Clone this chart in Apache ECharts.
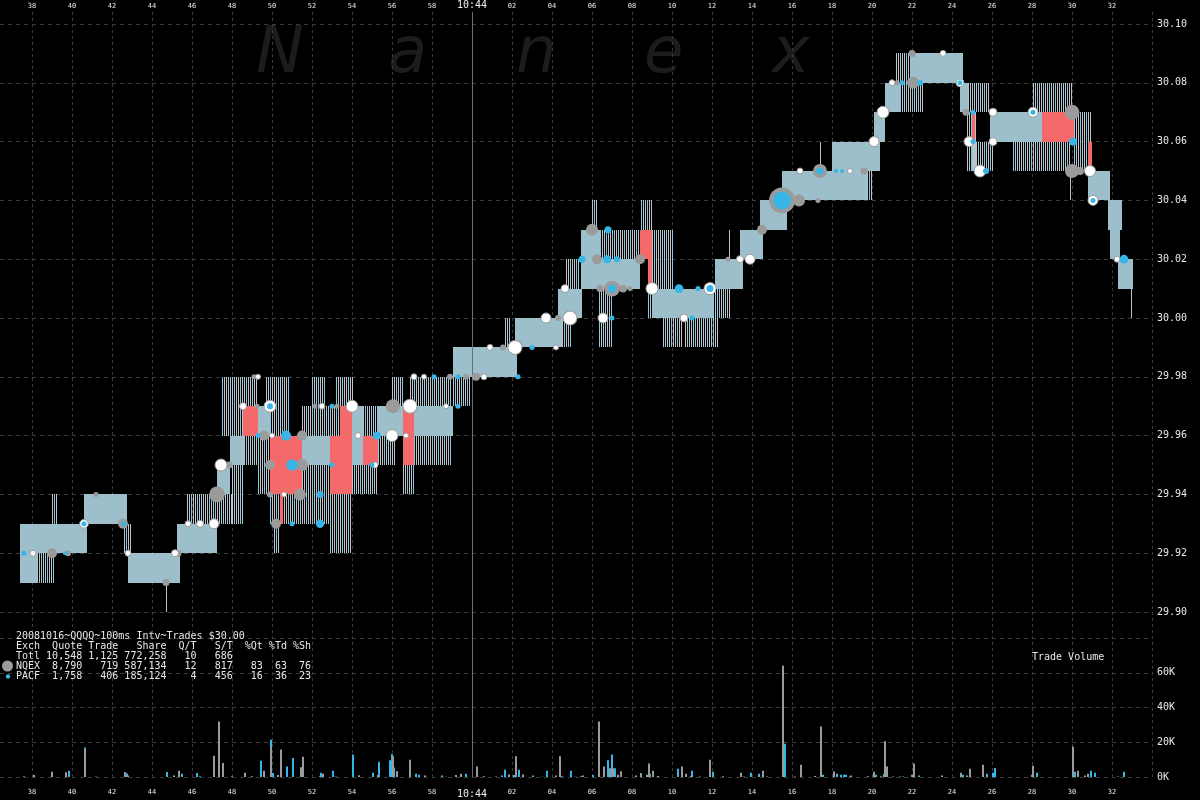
<!DOCTYPE html>
<html><head><meta charset="utf-8">
<script src="https://cdn.jsdelivr.net/npm/echarts@6/dist/echarts.min.js"></script>
<style>html,body{margin:0;padding:0;background:#000}#c{width:1200px;height:800px}</style>
</head><body><div id="c"></div>
<script>
// time = seconds after 10:43:00 ; prices in dollars
const bandSegs = [
 [37.4,38.25,29.91,29.93],[38.25,40.75,29.92,29.93],[40.6,42.75,29.93,29.94],[42.8,45.4,29.91,29.92],
 [45.25,47.25,29.92,29.93],[47.25,47.9,29.94,29.95],[47.9,48.6,29.95,29.96],[49.3,49.9,29.96,29.97],
 [51.5,52.9,29.95,29.96],[54.0,54.55,29.95,29.97],[55.3,56.55,29.96,29.97],[57.1,59.05,29.96,29.97],
 [59.05,62.25,29.98,29.99],[62.15,64.5,29.99,30.00],[64.3,65.5,30.00,30.01],[65.45,66.4,30.01,30.03],
 [66.4,68.4,30.01,30.02],[69.0,72.05,30.00,30.01],[72.15,73.55,30.01,30.02],[73.4,74.55,30.02,30.03],
 [74.4,75.75,30.03,30.04],[75.5,79.75,30.04,30.05],[78.0,80.4,30.05,30.06],[80.1,80.65,30.06,30.07],
 [80.65,81.4,30.07,30.08],[81.9,84.55,30.08,30.09],[84.4,84.8,30.07,30.08],[85.9,88.5,30.06,30.07],
 [90.8,91.9,30.04,30.05],[91.8,92.5,30.03,30.04],[91.9,92.4,30.02,30.03],[92.3,93.05,30.01,30.02]
];
const crossedSegs = [
 [48.55,49.3,29.96,29.97],[49.9,51.5,29.94,29.96],[50.4,50.55,29.93,29.94],[52.9,54.0,29.94,29.96],
 [53.4,54.0,29.96,29.97],[54.55,55.3,29.95,29.96],[56.55,57.1,29.95,29.97],[68.4,69.0,30.02,30.03],
 [68.8,69.0,30.01,30.02],[85.0,85.15,30.06,30.07],[88.5,90.1,30.06,30.07],[90.8,91.0,30.05,30.06]
];
const quoteSegs = [
 [38.25,39.15,29.91,29.92],[39.0,39.3,29.93,29.94],[42.6,43.0,29.92,29.93],[44.7,44.8,29.90,29.91],
 [45.75,47.15,29.93,29.94],[47.05,48.0,29.93,29.94],[47.5,49.3,29.96,29.98],[48.0,48.6,29.93,29.95],
 [48.6,49.3,29.95,29.96],[49.3,49.9,29.94,29.96],[49.7,50.9,29.96,29.98],[49.9,51.5,29.93,29.94],
 [50.1,50.4,29.92,29.93],[51.5,53.4,29.96,29.97],[51.5,52.9,29.93,29.95],[52.0,52.65,29.97,29.98],
 [52.9,54.0,29.92,29.94],[53.2,54.05,29.97,29.98],[54.0,54.55,29.94,29.95],[54.5,55.25,29.94,29.95],
 [54.55,55.3,29.96,29.97],[55.3,56.15,29.95,29.96],[56.0,56.55,29.96,29.98],[56.55,57.1,29.94,29.95],
 [56.9,59.0,29.97,29.98],[57.1,59.0,29.95,29.96],[59.05,59.9,29.97,29.98],[61.65,61.9,29.99,30.00],
 [64.5,65.0,29.99,30.00],[64.7,65.4,30.01,30.02],[66.0,66.3,30.03,30.04],[66.35,67.05,29.99,30.01],
 [66.4,68.4,30.02,30.03],[68.45,69.0,30.03,30.04],[68.8,69.25,30.00,30.01],[69.0,70.05,30.01,30.03],
 [69.55,70.55,29.99,30.00],[70.65,72.3,29.99,30.00],[72.05,72.9,30.00,30.01],[72.85,72.95,30.02,30.03],
 [77.4,77.5,30.05,30.06],[79.75,80.0,30.04,30.05],[81.2,81.9,30.08,30.09],[81.4,82.6,30.07,30.08],
 [84.75,85.25,30.05,30.07],[84.8,85.9,30.07,30.08],[85.0,86.05,30.05,30.06],[87.05,89.9,30.05,30.06],
 [88.05,90.05,30.07,30.08],[89.9,90.0,30.04,30.05],[90.1,91.0,30.05,30.07],[92.0,92.4,30.03,30.04],
 [92.95,93.05,30.00,30.01]
];
// trades: [time, price, shares]
const nqexTrades = [
 [39.0,29.92,6000],[39.8,29.92,1100],[41.2,29.94,500],[42.55,29.93,6000],[44.7,29.91,2000],[45.3,29.92,2000],
 [47.25,29.94,20000],[47.85,29.95,2000],[49.1,29.98,500],[49.25,29.97,500],[49.6,29.96,6000],[49.9,29.95,6000],
 [49.9,29.94,1100],[50.2,29.93,6000],[51.5,29.96,6000],[51.5,29.95,10000],[51.4,29.94,10000],[52.15,29.97,500],
 [53.25,29.97,500],[56.05,29.97,15000],[56.0,29.96,2000],[58.9,29.98,1100],[59.7,29.98,1100],[60.2,29.98,3000],
 [61.55,29.99,1100],[64.3,30.00,1100],[66.4,30.01,2000],[67.0,30.01,20000],[67.55,30.01,3000],[67.9,30.01,500],
 [66.25,30.02,6000],[66.0,30.03,10000],[68.4,30.02,6000],[72.8,30.02,500],[74.5,30.03,6000],[75.5,30.04,65000],
 [76.35,30.04,10000],[77.3,30.04,500],[77.4,30.05,15000],[79.6,30.05,2000],[80.1,30.06,1100],[81.25,30.08,500],
 [82.05,30.08,10000],[82.0,30.09,2000],[84.7,30.07,2000],[84.85,30.06,3000],[88.05,30.07,6000],[90.0,30.07,17500],
 [90.0,30.05,15000],[90.4,30.05,3000]
];
const otherTrades = [
 [38.05,29.92,1100],[40.6,29.93,4000],[42.8,29.92,1100],[45.15,29.92,2000],[45.8,29.93,1100],[46.4,29.93,2000],
 [47.1,29.93,6000],[47.45,29.95,10000],[48.55,29.97,2000],[49.3,29.98,500],[49.9,29.97,10000],[50.0,29.96,500],
 [50.6,29.94,500],[52.5,29.97,1100],[54.0,29.97,10000],[54.3,29.96,1100],[56.0,29.96,10000],[56.7,29.96,500],
 [56.9,29.97,15000],[55.15,29.95,1100],[57.1,29.98,1100],[57.6,29.98,500],[58.7,29.97,500],[60.6,29.98,1100],
 [60.9,29.99,1100],[62.15,29.99,15000],[63.7,30.00,6000],[64.9,30.00,15000],[64.2,29.99,500],[64.65,30.01,3000],
 [66.55,30.00,6000],[69.0,30.01,10000],[70.6,30.00,3000],[71.9,30.01,10000],[73.9,30.02,6000],[73.4,30.02,2000],
 [76.4,30.05,1100],[78.9,30.05,500],[80.1,30.06,6000],[80.55,30.07,10000],[81.0,30.08,1100],[83.55,30.09,1100],
 [84.4,30.08,3000],[86.05,30.07,3000],[86.05,30.06,3000],[85.4,30.05,10000],[84.85,30.06,6000],[88.05,30.07,6000],
 [90.9,30.05,8000],[91.05,30.04,6000],[92.25,30.02,1100]
];
const pacfTrades = [
 [37.6,29.92,500],[39.65,29.92,150],[40.6,29.93,500],[42.6,29.93,500],[49.3,29.96,500],[49.9,29.97,1100],
 [50.7,29.96,6000],[51.0,29.95,9000],[52.4,29.94,2000],[52.4,29.93,3600],[51.0,29.93,500],[53.0,29.97,500],
 [53.0,29.95,500],[55.25,29.96,3000],[55.0,29.95,500],[58.1,29.98,500],[59.3,29.98,500],[59.3,29.97,500],
 [62.3,29.98,500],[63.0,29.99,500],[67.0,30.00,500],[65.5,30.02,2000],[66.75,30.02,3000],[67.25,30.02,1100],
 [66.8,30.03,2000],[67.0,30.01,3000],[70.35,30.01,4000],[71.3,30.01,500],[71.9,30.01,2000],[71.0,30.00,500],
 [75.5,30.04,27000],[77.4,30.05,2000],[78.2,30.05,150],[78.5,30.05,150],[81.5,30.08,500],[82.4,30.08,1100],
 [84.4,30.08,500],[85.05,30.07,500],[85.05,30.06,500],[85.7,30.05,1100],[88.05,30.07,500],[90.05,30.06,3000],
 [91.05,30.04,500],[92.6,30.02,4000]
];
// trade volume per 100ms: [time, shares]
const nqexVolume = [
 [38.1,1100],[39.0,3000],[39.7,2700],[40.65,16000],[41.2,300],[42.65,2900],[42.8,800],[45.1,800],[45.35,3600],
 [47.1,12300],[47.35,32000],[47.55,8000],[48.0,400],[48.65,2500],[49.0,400],[49.6,3600],[49.95,17300],[50.3,1100],
 [50.45,15800],[51.45,5600],[51.55,11700],[52.55,1900],[53.2,300],[54.35,1000],[55.3,1100],[56.05,12000],[56.25,3300],
 [56.9,10000],[57.65,900],[58.7,200],[59.2,1100],[59.45,1800],[60.25,6000],[60.6,500],[61.2,300],[61.85,1400],
 [62.2,12000],[62.55,1400],[63.5,200],[64.2,800],[64.4,12000],[65.2,200],[65.55,800],[66.35,32000],[66.6,6000],
 [66.9,5000],[67.05,5000],[67.3,1300],[67.45,3300],[68.2,900],[68.45,2300],[68.75,1300],[68.85,7700],[69.05,3600],
 [69.3,600],[70.5,6000],[70.7,1800],[70.95,700],[71.9,10000],[72.55,400],[73.45,2500],[73.6,300],[74.55,3600],
 [74.75,300],[75.55,64000],[76.15,300],[76.45,7100],[77.15,600],[77.45,29000],[78.1,3100],[78.9,300],[79.8,400],
 [80.1,3000],[80.45,400],[80.65,20600],[80.75,6000],[81.05,300],[82.0,1300],[82.1,7700],[83.5,800],[84.45,2500],
 [84.75,800],[84.9,4800],[85.55,7100],[88.0,1300],[88.05,6500],[90.05,17500],[90.3,3600],[90.65,800],[90.8,1900],
 [92.3,300]
];
const pacfVolume = [
 [37.6,400],[39.85,3600],[40.65,17000],[42.75,2000],[44.75,2900],[45.5,1900],[46.25,2300],[46.4,400],[49.45,9400],
 [49.95,21500],[50.05,2300],[50.75,6000],[51.05,11000],[52.4,400],[52.45,2500],[53.05,3600],[54.05,12900],[55.05,2500],
 [55.35,8800],[55.9,9600],[56.0,13300],[56.1,5500],[57.2,1900],[57.35,1300],[58.5,900],[59.7,1900],[61.5,800],
 [61.65,4200],[62.1,1200],[62.35,4200],[63.05,800],[63.75,3600],[64.5,500],[64.95,3600],[65.45,500],[66.05,1100],
 [66.8,9600],[67.0,12900],[67.15,5000],[68.9,1900],[70.3,4800],[71.0,3600],[71.4,300],[72.05,3000],[73.95,2500],
 [74.35,1900],[75.65,19200],[77.55,1300],[78.25,1900],[78.45,1300],[78.6,1300],[78.7,1300],[78.95,900],[80.2,1300],
 [80.6,1800],[81.4,300],[81.55,300],[82.35,900],[84.55,1300],[85.75,1900],[86.05,2500],[86.15,5200],[88.25,2500],
 [90.15,3000],[90.95,3600],[91.15,2500],[92.6,3000]
];
const legendTitle = '20081016~QQQQ~100ms Intv~Trades $30.00';
const legendRows = [
 'Exch  Quote Trade   Share  Q/T   S/T  %Qt %Td %Sh',
 'Totl 10,548 1,125 772,258   10   686',
 'NQEX  8,790   719 587,134   12   817   83  63  76',
 'PACF  1,758   406 185,124    4   456   16  36  23'
];
const watermark = ['N','a','n','e','x'];
const volumeTitle = 'Trade Volume';

const MONO = '"DejaVu Sans Mono", monospace';
const GREY = '#9b9b9b', BLUE = '#36b5e6';

function timeLabel(v){
  v = Math.round(v);
  if (v < 38 || v > 92) return '';
  if (v === 60) return '{b|10:44}';
  const s = v < 60 ? v : v - 60;
  return '{a|' + (s < 10 ? '0' : '') + s + '}';
}
const richLbl = {a:{fontSize:7,fontFamily:MONO,color:'#e8e8e8'}, b:{fontSize:10,fontFamily:MONO,color:'#f0f0f0'}};

function segRender(kind){
  return function(params, api){
    const t0=api.value(0), t1=api.value(1), lo=api.value(2), hi=api.value(3);
    const a=api.coord([t0,hi]), b=api.coord([t1,lo]);
    const x0=Math.round(a[0]); const x1=Math.max(Math.round(b[0]), x0+1);
    const y0=Math.round(a[1]); const h=Math.round(b[1])-y0;
    const ch=[];
    if(kind==='band'){
      ch.push({type:'rect',shape:{x:x0,y:y0,width:x1-x0,height:h},style:{fill:'#9dbfcc'}});
    } else if(kind==='red'){
      ch.push({type:'rect',shape:{x:x0,y:y0,width:x1-x0,height:h},style:{fill:'#f46a6a'}});
    } else {
      for(let x=x0;x<x1;x+=2) ch.push({type:'rect',shape:{x:x,y:y0,width:1,height:h},style:{fill:(Math.round(x/2)%3===0)?'#7fcbe8':'#c2c2c2'}});
    }
    return {type:'group',children:ch,silent:true};
  };
}
const dotSize = v => 3 + 0.09*Math.sqrt(v[2]);

const chart = echarts.init(document.getElementById('c'), null, {renderer:'canvas'});
const gridStyle = {color:'#3a3a3a', type:[4,4], width:1};
const graphics = [];
const wmX = [256,388,516,644,772];
watermark.forEach((ch,i)=>graphics.push({type:'text',x:wmX[i],y:55,z:-5,silent:true,
  style:{text:ch,font:'italic 64px "DejaVu Sans"',fill:'#1c1c1c',verticalAlign:'middle',align:'left'}}));
graphics.push({type:'text',x:16,y:636,z:50,style:{text:legendTitle,font:'10px '+MONO,fill:'#e8e8e8',verticalAlign:'middle'}});
legendRows.forEach((r,i)=>graphics.push({type:'text',x:16,y:646+i*10,z:50,style:{text:r,font:'10px '+MONO,fill:'#e8e8e8',verticalAlign:'middle'}}));
graphics.push({type:'circle',shape:{cx:7.5,cy:666,r:5.5},z:50,style:{fill:GREY}});
graphics.push({type:'circle',shape:{cx:8,cy:676.5,r:2.2},z:50,style:{fill:BLUE}});
graphics.push({type:'text',x:1032,y:657,z:50,style:{text:volumeTitle,font:'10px '+MONO,fill:'#e8e8e8',verticalAlign:'middle'}});

chart.setOption({
  backgroundColor:'#000',
  animation:false,
  graphic:graphics,
  grid:[
    {left:-8,right:48,top:12,bottom:23,outerBoundsMode:'none',containLabel:false},
    {left:-8,right:48,top:24,bottom:188,outerBoundsMode:'none',containLabel:false},
    {left:-8,right:48,top:638,bottom:23,outerBoundsMode:'none',containLabel:false}
  ],
  xAxis:[
    {gridIndex:0,type:'value',min:36,max:94,interval:2,position:'top',axisLine:{show:false},axisTick:{show:false},
     axisLabel:{formatter:timeLabel,rich:richLbl,margin:2,showMinLabel:false,showMaxLabel:false},
     splitLine:{show:true,lineStyle:{color:'#3a3a3a',type:[3,3]}}},
    {gridIndex:1,type:'value',min:36,max:94,show:false},
    {gridIndex:2,type:'value',min:36,max:94,interval:2,position:'bottom',axisLine:{show:false},axisTick:{show:false},
     axisLabel:{formatter:timeLabel,rich:richLbl,margin:12,showMinLabel:false,showMaxLabel:false},splitLine:{show:false}}
  ],
  yAxis:[
    {gridIndex:0,type:'value',min:0,max:1,show:false},
    {gridIndex:1,type:'value',position:'right',min:29.90,max:30.10,interval:0.02,axisLine:{show:false},axisTick:{show:false},
     axisLabel:{formatter:v=>v.toFixed(2),margin:5,color:'#e8e8e8',fontSize:10,fontFamily:MONO},splitLine:{lineStyle:gridStyle}},
    {gridIndex:2,type:'value',position:'right',min:0,max:80000,interval:20000,axisLine:{show:false},axisTick:{show:false},
     axisLabel:{formatter:v=>v>=80000?'':(v/1000)+'K',margin:5,color:'#e8e8e8',fontSize:10,fontFamily:MONO},splitLine:{lineStyle:gridStyle}}
  ],
  series:[
    {type:'line',xAxisIndex:0,yAxisIndex:0,data:[],silent:true,
     markLine:{silent:true,symbol:['none','none'],label:{show:false},lineStyle:{color:'#6e6e6e',type:'solid',width:1},data:[{xAxis:60}]}},
    {type:'custom',xAxisIndex:1,yAxisIndex:1,data:quoteSegs,renderItem:segRender('quote'),z:2},
    {type:'custom',xAxisIndex:1,yAxisIndex:1,data:bandSegs,renderItem:segRender('band'),z:3},
    {type:'custom',xAxisIndex:1,yAxisIndex:1,data:crossedSegs,renderItem:segRender('red'),z:4},
    {type:'scatter',xAxisIndex:1,yAxisIndex:1,data:nqexTrades,symbolSize:dotSize,itemStyle:{color:GREY,opacity:1},z:5},
    {type:'scatter',xAxisIndex:1,yAxisIndex:1,data:otherTrades,symbolSize:dotSize,itemStyle:{color:'#ffffff',borderColor:'#9b9b9b',borderWidth:1,opacity:1},z:6},
    {type:'scatter',xAxisIndex:1,yAxisIndex:1,data:pacfTrades,symbolSize:dotSize,itemStyle:{color:BLUE,opacity:1},z:7},
    {type:'bar',xAxisIndex:2,yAxisIndex:2,data:pacfVolume,barWidth:2,barGap:'-100%',itemStyle:{color:BLUE},z:3},
    {type:'bar',xAxisIndex:2,yAxisIndex:2,data:nqexVolume,barWidth:2,barGap:'-100%',itemStyle:{color:GREY},z:4}
  ]
});
</script></body></html>
